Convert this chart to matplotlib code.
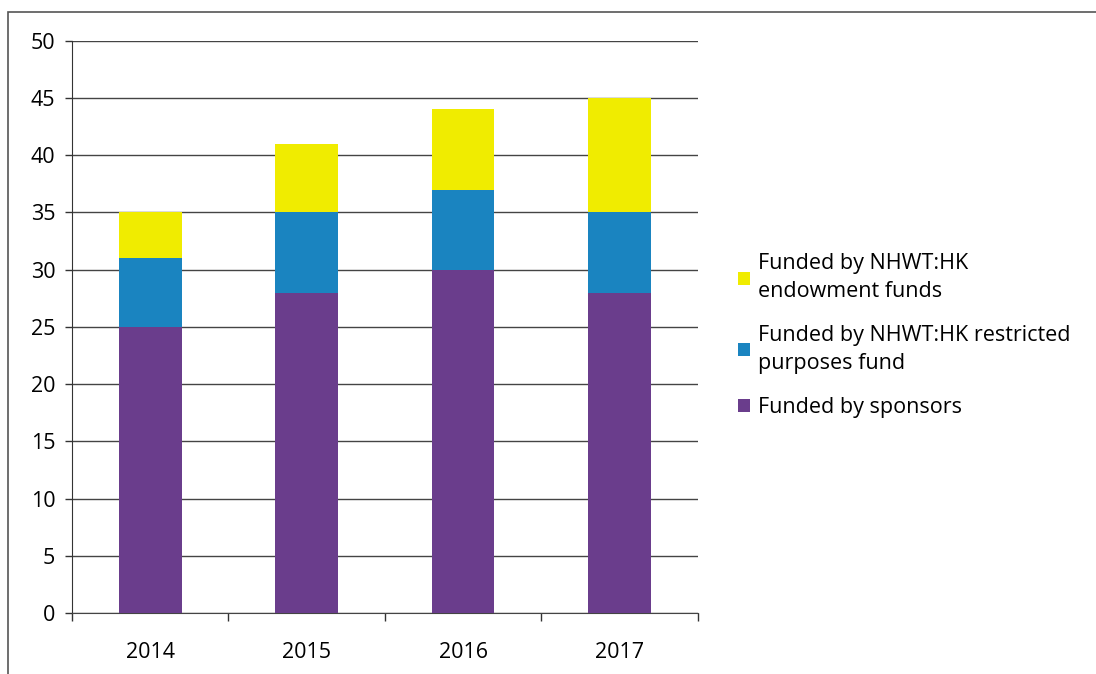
import numpy as np
import matplotlib.pyplot as plt
from matplotlib.patches import Rectangle

years = ["2014", "2015", "2016", "2017"]
sponsors = [25, 28, 30, 28]
restricted = [6, 7, 7, 7]
endowment = [4, 6, 7, 10]

labels = ["Funded by NHWT:HK\nendowment funds",
          "Funded by NHWT:HK restricted\npurposes fund",
          "Funded by sponsors"]
colors = {"sponsors": "#6a3d8c", "restricted": "#1a84c0", "endowment": "#f0ec00"}

plt.rcParams['font.family'] = ['Open Sans', 'DejaVu Sans']

fig = plt.figure(figsize=(10.96, 6.74), dpi=100)
ax = fig.add_axes([0.0657, 0.0905, 0.571, 0.849])

x = np.arange(len(years))
w = 0.4
b1 = ax.bar(x, sponsors, w, color=colors["sponsors"], zorder=3)
bottom2 = np.array(sponsors)
b2 = ax.bar(x, restricted, w, bottom=bottom2, color=colors["restricted"], zorder=3)
bottom3 = bottom2 + np.array(restricted)
b3 = ax.bar(x, endowment, w, bottom=bottom3, color=colors["endowment"], zorder=3)

ax.set_ylim(0, 50)
ax.set_xlim(-0.5, len(years) - 0.5)
ax.set_yticks(range(0, 51, 5))
ax.set_xticks(x)
ax.set_xticklabels(years)
ax.set_xticks(np.arange(-0.5, len(years)), minor=True)
ax.tick_params(axis='x', which='major', length=0, pad=21, labelsize=15.5)
ax.tick_params(axis='x', which='minor', length=6, width=1, color='#333333')
ax.tick_params(axis='y', length=5, width=1, color='#333333', labelsize=15.5, pad=7)

ax.grid(axis='y', color='#444444', linewidth=1, zorder=0)
for s in ['top', 'right']:
    ax.spines[s].set_visible(False)
ax.spines['left'].set_color('#333333')
ax.spines['bottom'].set_color('#444444')

leg = ax.legend([b3, b2, b1], labels, loc='center left', bbox_to_anchor=(1.033, 0.485),
                frameon=False, fontsize=15.5, handlelength=0.55, handleheight=0.55,
                handletextpad=0.4, labelspacing=1.05)
for t in leg.get_texts():
    t.set_linespacing(1.45)

# outer chart border
fig.patches.append(Rectangle((8 / 1096, -0.1), 1.2, (674 - 12) / 674 + 0.1,
                             transform=fig.transFigure, fill=False,
                             edgecolor='#555555', linewidth=1.2))

fig.savefig("out.png", dpi=100)
